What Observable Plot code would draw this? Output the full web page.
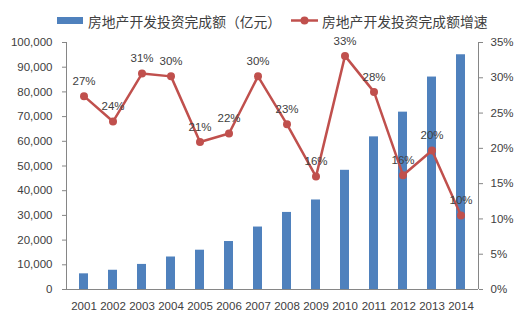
<!DOCTYPE html>
<html><head><meta charset="utf-8">
<script src="https://cdn.jsdelivr.net/npm/d3@7"></script>
<script src="https://cdn.jsdelivr.net/npm/@observablehq/plot@0.6"></script>
<style>
body{margin:0;background:#fff;font-family:"Liberation Sans","Noto Sans CJK SC",sans-serif;}
#legend{position:relative;height:34px;width:520px;font-family:"Noto Sans CJK SC",sans-serif;font-size:13.8px;color:#404040;}
#legend .it{position:absolute;top:12px;white-space:nowrap;line-height:18px;}
</style></head>
<body>
<div id="legend">
  <div class="it" style="left:57px"><svg width="27" height="18" style="vertical-align:top"><rect x="0" y="5" width="26" height="7" fill="#4F81BD"/></svg><span style="margin-left:4px">房地产开发投资完成额（亿元）</span></div>
  <div class="it" style="left:291px"><svg width="29" height="18" style="vertical-align:top"><line x1="0" x2="27" y1="8.5" y2="8.5" stroke="#C0504D" stroke-width="2.5"/><circle cx="13.5" cy="8.5" r="4" fill="#C0504D"/></svg><span style="margin-left:2px">房地产开发投资完成额增速</span></div>
</div>
<div id="chart"></div>
<script>
const years = ["2001","2002","2003","2004","2005","2006","2007","2008","2009","2010","2011","2012","2013","2014"];
const investment = [6344,7791,10154,13158,15909,19423,25289,31203,36242,48259,61797,71804,86013,95036];
const growth = [27.4,23.8,30.6,30.2,20.9,22.1,30.2,23.4,16.0,33.1,28.0,16.2,19.7,10.5];
const growthLabels = ["27%","24%","31%","30%","21%","22%","30%","23%","16%","33%","28%","16%","20%","10%"];
const leftTicks = [0,10000,20000,30000,40000,50000,60000,70000,80000,90000,100000];
const rightTicks = [0,5,10,15,20,25,30,35];

const yMax = 100000, rMax = 35;
const toY = v => v * yMax / rMax;
const data = years.map((y,i)=>({year:y, inv:investment[i], g:growth[i], gy:toY(growth[i]), label:growthLabels[i]}));

const chart = Plot.plot({
  width: 520, height: 292,
  marginTop: 8, marginLeft: 66, marginRight: 42, marginBottom: 37,
  style: {fontFamily: "Liberation Sans, sans-serif", fontSize: "11.5px", color: "#404040", background: "#fff"},
  x: {domain: years, paddingInner: 0.69, paddingOuter: 0.345, label: null},
  y: {domain: [0, yMax], label: null},
  marks: [
    Plot.barY(data, {x: "year", y: "inv", fill: "#4F81BD"}),
    Plot.ruleY([0], {stroke: "#868686"}),
    Plot.axisY({ticks: leftTicks, anchor: "left", tickSize: 4, tickPadding: 10, stroke: "#868686", tickFormat: d3.format(","), fontSize: 11.5}),
    Plot.axisY({ticks: rightTicks.map(toY), anchor: "right", tickSize: 4, tickPadding: 8, stroke: "#868686", tickFormat: d => Math.round(d*rMax/yMax) + "%", fontSize: 11.5}),
    Plot.axisX({tickSize: 0, tickPadding: 12, fontSize: 11.5}),
    Plot.line(data, {x: "year", y: "gy", stroke: "#C0504D", strokeWidth: 2.5}),
    Plot.dot(data, {x: "year", y: "gy", fill: "#C0504D", r: 4}),
    Plot.text(data, {x: "year", y: "gy", text: "label", dy: -15, fill: "#404040", fontSize: 11.5})
  ]
});
const svg = d3.select(chart);
svg.append("line").attr("x1",66.5).attr("x2",66.5).attr("y1",8).attr("y2",255).attr("stroke","#868686");
svg.append("line").attr("x1",478.5).attr("x2",478.5).attr("y1",8).attr("y2",255).attr("stroke","#868686");
document.getElementById("chart").appendChild(chart);
</script>
</body></html>
